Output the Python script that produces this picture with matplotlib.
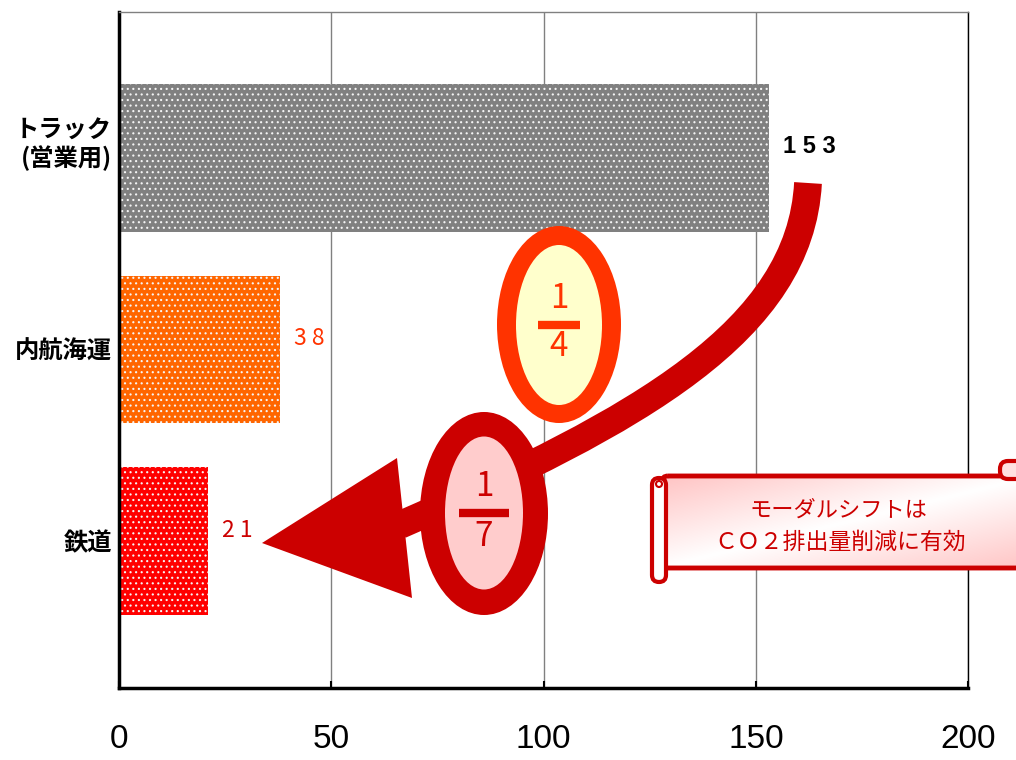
import numpy as np
import matplotlib
matplotlib.use("Agg")
import matplotlib.pyplot as plt
import matplotlib.transforms as mtransforms
from matplotlib.patches import Ellipse, FancyBboxPatch, Polygon, PathPatch
from matplotlib.path import Path

categories = ["トラック\n(営業用)", "内航海運", "鉄道"]
values = [153, 38, 21]
value_labels = ["1 5 3", "3 8", "2 1"]
bar_colors = ["#808080", "#FF6600", "#FF0000"]
label_colors = ["#000000", "#FF3300", "#CC0000"]
label_weights = ["bold", "normal", "normal"]
xticks = [0, 50, 100, 150, 200]

JP = ["Noto Sans CJK JP", "DejaVu Sans"]
NARROW = ["Liberation Sans Narrow", "Liberation Sans", "DejaVu Sans"]

plt.rcParams["font.family"] = JP
plt.rcParams["hatch.linewidth"] = 0.8

fig = plt.figure(figsize=(10.16, 7.6), dpi=100)
ax = fig.add_axes([0.117, 0.0947, 0.836, 0.889])

y = np.arange(len(categories))
bars = ax.barh(y, values, height=0.77, color=bar_colors, edgecolor="#F4F4F4",
               linewidth=0, hatch="...", zorder=2)

for i, (v, lab) in enumerate(zip(values, value_labels)):
    ax.annotate(lab, (v, i), xytext=(10, 8), textcoords="offset points",
                ha="left", va="center", fontsize=17 if i == 0 else 16.5,
                color=label_colors[i], fontweight=label_weights[i],
                family=NARROW if i == 0 else JP)

ax.set_xlim(0, 200)
ax.set_ylim(2.766, -0.76)
ax.set_xticks(xticks)
ax.set_xticklabels([str(t) for t in xticks], family=NARROW, fontsize=24)
ax.set_yticks(y)
ax.set_yticklabels(categories, fontsize=17.5, fontweight="bold", linespacing=1.1)
ax.tick_params(axis="x", direction="in", length=5, width=1.5, pad=26)
ax.tick_params(axis="y", length=0, pad=5)
ax.grid(axis="x", color="#808080", linewidth=1)
ax.set_axisbelow(True)
ax.spines["left"].set_linewidth(2.5)
ax.spines["bottom"].set_linewidth(2.5)
ax.spines["top"].set_color("#808080")
ax.spines["top"].set_linewidth(1)
ax.spines["right"].set_linewidth(1)

# truck label sits a little above its bar centre
lbl = ax.get_yticklabels()[0]
lbl.set_transform(lbl.get_transform() +
                  mtransforms.ScaledTranslation(0, 12 / 72, fig.dpi_scale_trans))

# overlay in reference pixel units for the decorations
ov = fig.add_axes([0, 0, 1, 1], zorder=5)
ov.set_xlim(0, 1016)
ov.set_ylim(760, 0)
ov.axis("off")
ov.patch.set_alpha(0)

red = "#CC0000"
shaft = Path([(808, 183), (800, 330), (640, 420), (400, 525)],
             [Path.MOVETO, Path.CURVE4, Path.CURVE4, Path.CURVE4])
ov.add_patch(PathPatch(shaft, fill=False, edgecolor=red, linewidth=20,
                       capstyle="butt"))
ov.add_patch(Polygon([(262, 543), (397, 458), (412, 598)], closed=True,
                     facecolor=red, edgecolor="none"))

# 1/4
ov.add_patch(Ellipse((559, 324.5), 124, 197, facecolor="#FF3300", edgecolor="none"))
ov.add_patch(Ellipse((559, 325), 86, 160, facecolor="#FFFFCC", edgecolor="none"))
ov.text(559, 298, "1", ha="center", va="center", fontsize=24, color="#FF3300")
ov.plot([538, 580], [325, 325], color="#FF3300", linewidth=6, solid_capstyle="butt")
ov.text(559, 347, "4", ha="center", va="center", fontsize=24, color="#FF3300")

# 1/7
ov.add_patch(Ellipse((484, 513.5), 128, 203, facecolor=red, edgecolor="none"))
ov.add_patch(Ellipse((484, 513), 78, 153, facecolor="#FFCCCC", edgecolor="none"))
ov.text(484, 487, "1", ha="center", va="center", fontsize=24, color=red)
ov.plot([459, 509], [513, 513], color=red, linewidth=6, solid_capstyle="butt")
ov.text(484, 536, "7", ha="center", va="center", fontsize=24, color=red)

# scroll banner
body = FancyBboxPatch((662, 476), 370, 92, boxstyle="round,pad=0,rounding_size=6",
                      facecolor="none", edgecolor=red, linewidth=3.5)
ov.add_patch(body)
gx, gy = np.meshgrid(np.linspace(0, 1, 200), np.linspace(0, 1, 60))
grad = np.abs((gx + gy) / 2 - 0.5) * 2
cmap = matplotlib.colors.LinearSegmentedColormap.from_list("pk", ["#FFFFFF", "#FFC4C4"])
im = ov.imshow(grad, extent=(662, 1032, 568, 476), cmap=cmap, aspect="auto",
               zorder=0.5, interpolation="bilinear")
im.set_clip_path(body)
ov.set_xlim(0, 1016)
ov.set_ylim(760, 0)
ov.add_patch(FancyBboxPatch((1000, 461), 30, 18, boxstyle="round,pad=0,rounding_size=8",
                            facecolor="#FFE0E0", edgecolor=red, linewidth=3))
ov.add_patch(FancyBboxPatch((652, 478), 14, 104, boxstyle="round,pad=0,rounding_size=7",
                            facecolor="#FFFFFF", edgecolor=red, linewidth=3))
ov.add_patch(Ellipse((659, 484), 6, 6, facecolor="none", edgecolor=red, linewidth=1.5))
ov.text(838, 510, "モーダルシフトは", ha="center", va="center", fontsize=16, color=red)
ov.text(840, 542, "ＣＯ２排出量削減に有効", ha="center", va="center", fontsize=16.5, color=red)

fig.savefig("out.png", dpi=100)
